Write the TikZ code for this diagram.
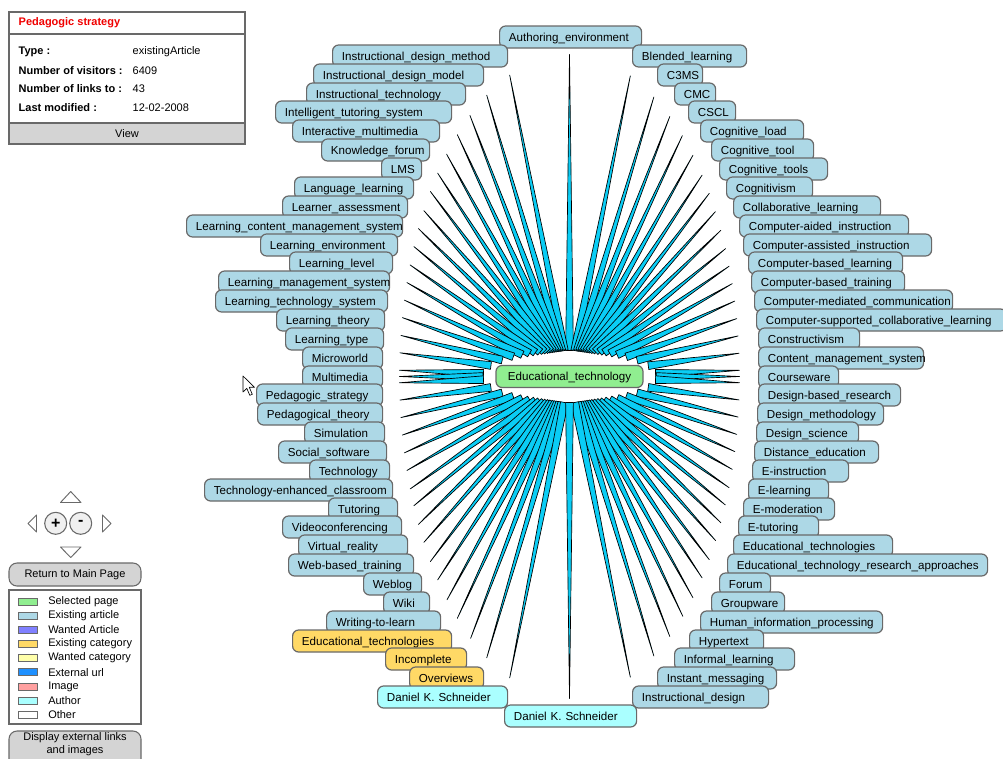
\documentclass[tikz,border=0pt]{standalone}
\usepackage{fontspec}
\setmainfont{Liberation Sans}
\usetikzlibrary{calc,backgrounds}
\definecolor{wkBlue}  {RGB}{173,216,230}
\definecolor{wkGreen} {RGB}{144,238,144}
\definecolor{wkYellow}{RGB}{255,217,102}
\definecolor{wkCyan}  {RGB}{170,255,255}
\definecolor{wkViolet}{RGB}{128,128,255}
\definecolor{wkPale}  {RGB}{255,255,170}
\definecolor{wkUrl}   {RGB}{ 30,144,255}
\definecolor{wkPink}  {RGB}{255,160,160}
\definecolor{wkSpoke} {RGB}{ 10,205,245}
\definecolor{wkGrey}  {RGB}{105,105,105}
\definecolor{wkGreyL} {RGB}{212,212,212}
\definecolor{wkRed}   {RGB}{240,  0,  0}
\hyphenpenalty=10000
\exhyphenpenalty=10000
% tapered link from the selected page to one article
\newcommand{\spoke}[1]{%
  \path let \p1=(#1.south west), \p2=(#1.north east), \p3=(edtech.center),
      \n1={max(\x1,min(\x3,\x2))-\x3}, \n2={max(\y1,min(\y3,\y2))-\y3},
      \n3={atan2(\n2/241.5,\n1/127.5)}, \n4={atan2(\n2/19.5,\n1/65)} in
    coordinate (tip) at ($(\p3)+(\n3:127.5pt and 241.5pt)$)
    coordinate (base) at ($(\p3)+(\n4:65pt and 19.5pt)$);
  \draw[spoke] ($(base)!2.9pt!90:(tip)$) -- (tip) -- ($(base)!2.9pt!-90:(tip)$) -- cycle;
}

\begin{document}
\begin{tikzpicture}[x=0.75pt,y=-0.75pt,
  every node/.style={font=\fontsize{8.25}{9.75}\selectfont},
  tag/.style={draw=wkGrey,line width=0.9pt,rounded corners=4.5pt,
              minimum height=16.5pt,inner ysep=0pt,text height=6.5pt,text depth=0.3pt,
              font=\fontsize{8.7}{10}\selectfont},
  box/.style={tag,anchor=west,inner xsep=7pt,align=left,text width={#1*0.75pt-14pt}},
  art/.style={box=#1,fill=wkBlue},
  cat/.style={box=#1,fill=wkYellow},
  auth/.style={box=#1,fill=wkCyan},
  sel/.style={tag,fill=wkGreen,minimum width=110.25pt},
  spoke/.style={fill=wkSpoke,draw=black,line width=0.5pt,line join=round},
  infokey/.style={anchor=west,font=\fontsize{8.25}{9.75}\selectfont\bfseries},
  infoval/.style={anchor=west},
  button/.style={draw=wkGrey,fill=wkGreyL,line width=0.8pt,rounded corners=6pt},
  navbtn/.style={circle,draw=wkGrey,fill=white!94!black,line width=0.8pt,
                 minimum size=16.5pt,inner sep=0pt,font=\fontsize{12}{12}\selectfont\bfseries},
  navarrow/.style={draw=wkGrey,fill=white,line width=0.7pt,line join=round}
]
\useasboundingbox (0,0) rectangle (1003,758);

% selected page
\node[sel] (edtech) at (569.5,376.5) {Educational\_technology};

% top and left column
\node[art=142] (authenv)    at (499,37)  {Authoring\_environment};
\node[art=175] (idmethod)   at (332,56)  {Instructional\_design\_method};
\node[art=170] (idmodel)    at (313,75)  {Instructional\_design\_model};
\node[art=159] (insttech)   at (306,94)  {Instructional\_technology};
\node[art=176] (its)        at (275,112) {Intelligent\_tutoring\_system};
\node[art=147] (imedia)     at (292,131) {Interactive\_multimedia};
\node[art=108] (kforum)     at (321,150) {Knowledge\_forum};
\node[art=40]  (lms)        at (381,169) {LMS};
\node[art=119] (langlearn)  at (294,188) {Language\_learning};
\node[art=125] (lassess)    at (282,207) {Learner\_assessment};
\node[art=216] (lcms)       at (186,226) {Learning\_content\_management\_system};
\node[art=137] (lenv)       at (260,245) {Learning\_environment};
\node[art=103] (llevel)     at (289,263) {Learning\_level};
\node[art=171] (lmsys)      at (218,282) {Learning\_management\_system};
\node[art=172] (ltsys)      at (215,301) {Learning\_technology\_system};
\node[art=108] (ltheory)    at (276,320) {Learning\_theory};
\node[art=98]  (ltype)      at (285,339) {Learning\_type};
\node[art=80]  (microworld) at (302,358) {Microworld};
\node[art=80]  (multimedia) at (302,377) {Multimedia};
\node[art=126] (pedstrat)   at (256,395) {Pedagogic\_strategy};
\node[art=125] (pedtheory)  at (257,414) {Pedagogical\_theory};
\node[art=80]  (simulation) at (304,433) {Simulation};
\node[art=108] (socsoft)    at (278,452) {Social\_software};
\node[art=80]  (technology) at (309,471) {Technology};
\node[art=188] (tecroom)    at (204,490) {Technology-enhanced\_classroom};
\node[art=69]  (tutoring)   at (328,509) {Tutoring};
\node[art=119] (vconf)      at (282,527) {Videoconferencing};
\node[art=109] (vreality)   at (298,546) {Virtual\_reality};
\node[art=125] (wbt)        at (288,565) {Web-based\_training};
\node[art=58]  (weblog)     at (363,584) {Weblog};
\node[art=46]  (wiki)       at (383,603) {Wiki};
\node[art=114] (wtl)        at (326,622) {Writing-to-learn};
\node[cat=159] (catedtechs) at (292,641) {Educational\_technologies};
\node[cat=81]  (catincompl) at (385,659) {Incomplete};
\node[cat=74]  (catoverv)   at (409,678) {Overviews};
\node[auth=130] (authleft)  at (377,697) {Daniel K. Schneider};

% right column
\node[art=114] (blended)     at (632,56)  {Blended\_learning};
\node[art=45]  (cthreems)    at (657,75)  {C3MS};
\node[art=41]  (cmc)         at (674,94)  {CMC};
\node[art=47]  (cscl)        at (688,112) {CSCL};
\node[art=103] (cogload)     at (700,131) {Cognitive\_load};
\node[art=102] (cogtool)     at (711,150) {Cognitive\_tool};
\node[art=108] (cogtools)    at (719,169) {Cognitive\_tools};
\node[art=86]  (cognitivism) at (726,188) {Cognitivism};
\node[art=147] (collab)      at (733,207) {Collaborative\_learning};
\node[art=169] (caidi)       at (739,226) {Computer-aided\_instruction};
\node[art=188] (cassi)       at (743,245) {Computer-assisted\_instruction};
\node[art=154] (cbl)         at (748,263) {Computer-based\_learning};
\node[art=153] (cbt)         at (751,282) {Computer-based\_training};
\node[art=198] (cmcomm)      at (754,301) {Computer-mediated\_communication};
\node[art=250] (csclfull)    at (756,320) {Computer-supported\_collaborative\_learning};
\node[art=101] (construct)   at (758,339) {Constructivism};
\node[art=165] (cms)         at (758,358) {Content\_management\_system};
\node[art=80]  (courseware)  at (758,377) {Courseware};
\node[art=142] (dbr)         at (758,395) {Design-based\_research};
\node[art=126] (dmethod)     at (757,414) {Design\_methodology};
\node[art=102] (dscience)    at (756,433) {Design\_science};
\node[art=124] (distedu)     at (754,452) {Distance\_education};
\node[art=96]  (einstr)      at (752,471) {E-instruction};
\node[art=80]  (elearn)      at (748,490) {E-learning};
\node[art=91]  (emod)        at (743,509) {E-moderation};
\node[art=80]  (etutor)      at (738,527) {E-tutoring};
\node[art=159] (edtechs)     at (733,546) {Educational\_technologies};
\node[art=260] (etra)        at (727,565) {Educational\_technology\_research\_approaches};
\node[art=51]  (forum)       at (719,584) {Forum};
\node[art=73]  (groupware)   at (711,603) {Groupware};
\node[art=182] (hip)         at (700,622) {Human\_information\_processing};
\node[art=74]  (hypertext)   at (689,641) {Hypertext};
\node[art=120] (informal)    at (674,659) {Informal\_learning};
\node[art=119] (instmsg)     at (657,678) {Instant\_messaging};
\node[art=136] (instdesign)  at (632,697) {Instructional\_design};
\node[auth=132] (authbottom) at (504,716) {Daniel K. Schneider};

% links, behind the boxes
\begin{scope}[on background layer]
\fill[white] (0,0) rectangle (1003,758);
\foreach \tgt in {authenv,idmethod,idmodel,insttech,its,imedia,kforum,lms,langlearn,
    lassess,lcms,lenv,llevel,lmsys,ltsys,ltheory,ltype,microworld,multimedia,pedstrat,
    pedtheory,simulation,socsoft,technology,tecroom,tutoring,vconf,vreality,wbt,weblog,
    wiki,wtl,catedtechs,catincompl,catoverv,authleft,blended,cthreems,cmc,cscl,cogload,
    cogtool,cogtools,cognitivism,collab,caidi,cassi,cbl,cbt,cmcomm,csclfull,construct,
    cms,courseware,dbr,dmethod,dscience,distedu,einstr,elearn,emod,etutor,edtechs,etra,
    forum,groupware,hip,hypertext,informal,instmsg,instdesign,authbottom}
  {\spoke{\tgt}}
\end{scope}

% page info panel
\draw[wkGrey,line width=0.8pt,fill=white] (9,12) rectangle (245,144);
\draw[wkGrey,line width=0.8pt] (9,34) -- (245,34);
\draw[wkGrey,line width=0.8pt,fill=wkGreyL] (9,123) rectangle (245,144);
\node[infokey,text=wkRed] (pgname) at (14,23) {Pedagogic strategy};
\node[infokey] (ktype)    at (14,52)  {Type :};
\node[infokey] (kvisits)  at (14,71)  {Number of visitors :};
\node[infokey] (klinks)   at (14,89)  {Number of links to :};
\node[infokey] (kmod)     at (14,108) {Last modified :};
\node[infoval] (vtype)    at (128,52)  {existingArticle};
\node[infoval] (vvisits)  at (128,71)  {6409};
\node[infoval] (vlinks)   at (128,89)  {43};
\node[infoval] (vmod)     at (128,108) {12-02-2008};
\node (view) at (127,133.5) {View};

% navigation
\draw[navarrow] (60.5,502.5) -- (81,502.5) -- (70.7,491.5) -- cycle;
\draw[navarrow] (60.5,547) -- (81,547) -- (70.7,557.5) -- cycle;
\draw[navarrow] (36.5,515) -- (36.5,532) -- (28,523.5) -- cycle;
\draw[navarrow] (102.5,515) -- (102.5,532) -- (111,523.5) -- cycle;
\node[navbtn] (zoomin)  at (55.7,523.3) {+};
\node[navbtn] (zoomout) at (80.7,523.3) {-};

% buttons and legend
\draw[button] (9,563) rectangle (141,586);
\node (mainpage) at (75,574.5) {Return to Main Page};
\draw[wkGrey,line width=0.8pt,fill=white] (9,590) rectangle (141,724);
\foreach \c/\t [count=\i] in {wkGreen/Selected page,wkBlue/Existing article,
    wkViolet/Wanted Article,wkYellow/Existing category,wkPale/Wanted category,
    wkUrl/External url,wkPink/Image,wkCyan/Author,white/Other}
{
  \draw[wkGrey,line width=0.6pt,fill=\c] (18.5,{601.5+14.15*(\i-1)-3.5}) rectangle (37,{601.5+14.15*(\i-1)+3.5});
  \node[anchor=west,inner xsep=0pt] (leg\i) at (48,{601.5+14.15*(\i-1)}) {\t};
}
\draw[button] (9,731) rectangle (141,790);
\node[align=center] (extlinks) at (75,744.5) {Display external links\\and images};

% mouse pointer
\draw[black,fill=white,line width=0.5pt,line join=round]
  (243,376) -- (243,392) -- (246.8,388.3) -- (249.8,395.3) -- (252.3,394.3)
  -- (249.3,387.3) -- (254.5,387.3) -- cycle;
\end{tikzpicture}
\end{document}
